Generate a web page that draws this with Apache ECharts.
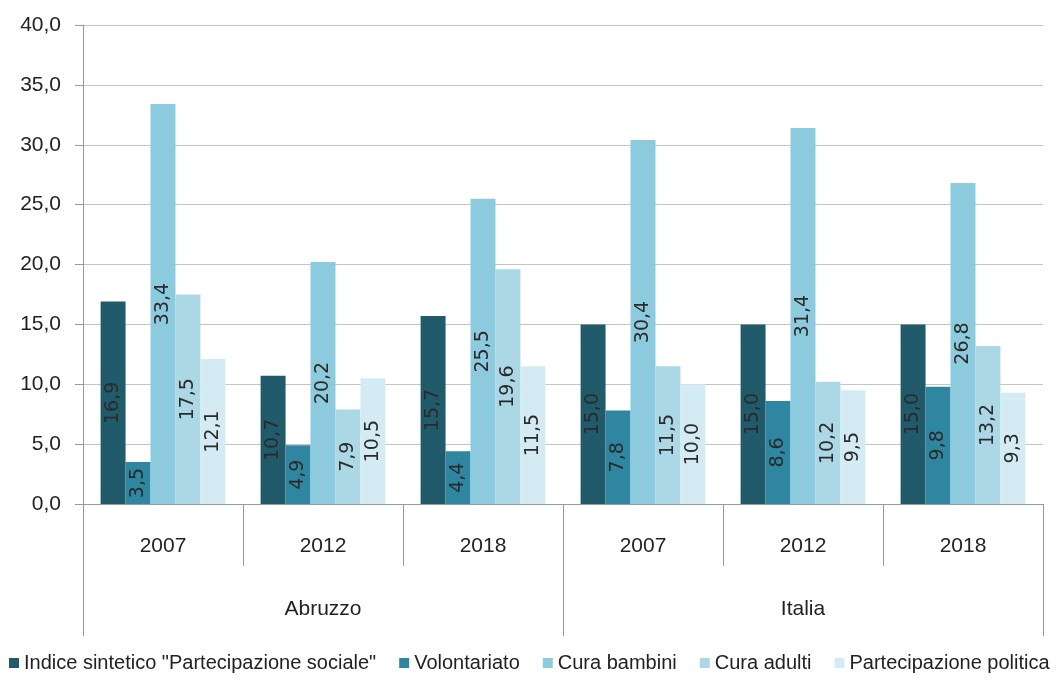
<!DOCTYPE html>
<html>
<head>
<meta charset="utf-8">
<script src="https://cdn.jsdelivr.net/npm/echarts@6/dist/echarts.min.js"></script>
<style>
  html, body { margin: 0; padding: 0; background: #fff; }
  #main { width: 1058px; height: 680px; }
</style>
</head>
<body>
<div id="main"></div>
<script>
const years = ['2007', '2012', '2018', '2007', '2012', '2018'];
const regions = ['Abruzzo', 'Italia'];
const seriesNames = ['Indice sintetico "Partecipazione sociale"', 'Volontariato', 'Cura bambini', 'Cura adulti', 'Partecipazione politica'];
const indice = [16.9, 10.7, 15.7, 15.0, 15.0, 15.0];
const volontariato = [3.5, 4.9, 4.4, 7.8, 8.6, 9.8];
const curaBambini = [33.4, 20.2, 25.5, 30.4, 31.4, 26.8];
const curaAdulti = [17.5, 7.9, 19.6, 11.5, 10.2, 13.2];
const politica = [12.1, 10.5, 11.5, 10.0, 9.5, 9.3];
const colors = ['#215b6b', '#2e86a0', '#8ccbde', '#acd8e6', '#d4ebf3'];

const fmt = v => v.toFixed(1).replace('.', ',');
const font = '"Liberation Sans Narrow", "Liberation Sans", sans-serif';

const chart = echarts.init(document.getElementById('main'));

const makeSeries = (name, data, i) => ({
  name: name,
  type: 'bar',
  data: data,
  xAxisIndex: 0,
  barGap: 0,
  barCategoryGap: '22%',
  itemStyle: { color: colors[i] },
  label: {
    show: true,
    position: 'inside',
    rotate: 90,
    color: '#2a2a2a',
    fontFamily: 'DejaVu Sans',
    fontSize: 19,
    formatter: p => fmt(p.value)
  }
});

chart.setOption({
  animation: false,
  color: colors,
  grid: { left: 83, right: 15, top: 25, bottom: 176 },
  legend: {
    bottom: 2,
    left: 4,
    icon: 'rect',
    itemWidth: 10,
    itemHeight: 10,
    itemGap: 23,
    textStyle: { fontFamily: font, fontSize: 20, color: '#222' },
    data: seriesNames
  },
  xAxis: [{
    type: 'category',
    data: years,
    axisLine: { show: true, lineStyle: { color: '#999' } },
    axisTick: { show: true, length: 62, lineStyle: { color: '#999' } },
    axisLabel: { fontFamily: font, fontSize: 21, color: '#222', margin: 32 }
  }, {
    type: 'category',
    data: regions,
    position: 'bottom',
    axisLine: { show: false },
    axisTick: { show: true, length: 132, lineStyle: { color: '#999' } },
    axisLabel: { fontFamily: font, fontSize: 21, color: '#222', margin: 95 }
  }],
  yAxis: {
    type: 'value',
    min: 0,
    max: 40,
    interval: 5,
    axisLine: { show: true, lineStyle: { color: '#999' } },
    axisTick: { show: true, length: 8, lineStyle: { color: '#999' } },
    splitLine: { lineStyle: { color: '#c4c4c4' } },
    axisLabel: { fontFamily: font, fontSize: 21, color: '#222', margin: 22, formatter: v => fmt(v) }
  },
  series: [
    makeSeries(seriesNames[0], indice, 0),
    makeSeries(seriesNames[1], volontariato, 1),
    makeSeries(seriesNames[2], curaBambini, 2),
    makeSeries(seriesNames[3], curaAdulti, 3),
    makeSeries(seriesNames[4], politica, 4)
  ]
});
</script>
</body>
</html>
